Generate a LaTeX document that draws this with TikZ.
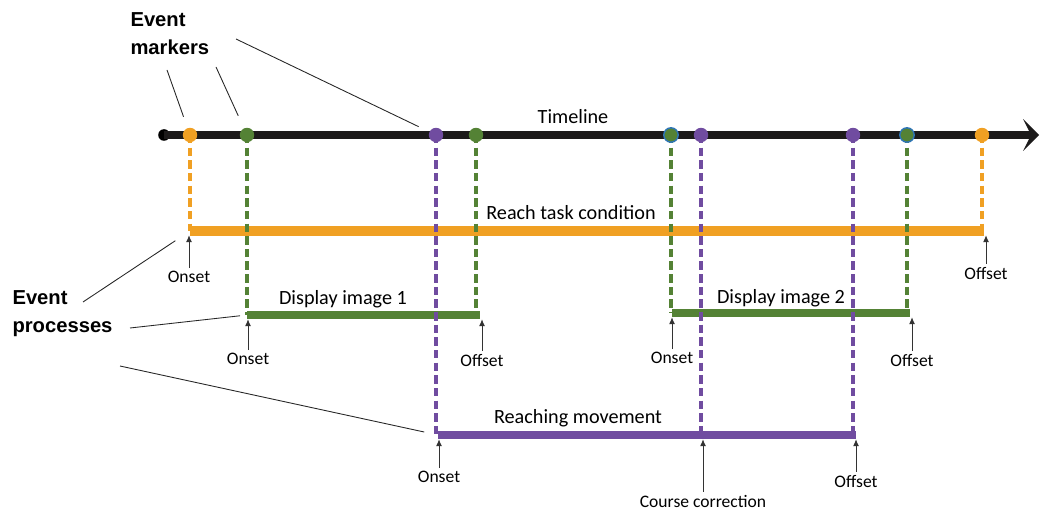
\documentclass[tikz,border=0pt]{standalone}
\usepackage{fontspec}
\setmainfont{Carlito}
\newfontfamily\headfont{Liberation Sans}
\usepackage{tikz}
\usetikzlibrary{arrows.meta}
\usetikzlibrary{positioning}
\usetikzlibrary{calc}
\definecolor{evorange}{RGB}{240,160,35}
\definecolor{evgreen}{RGB}{84,130,53}
\definecolor{evpurple}{RGB}{112,76,160}
\definecolor{evblue}{RGB}{46,117,182}
\definecolor{evblack}{RGB}{28,26,26}
\tikzset{every picture/.style={line width=0.6pt},
dot/.style={circle,inner sep=0pt,minimum size=8.2pt},
dashline/.style={line width=2pt,dash pattern=on 4.8pt off 2.4pt},
callout/.style={line width=0.5pt,black!85},
ptr/.style={line width=0.5pt,black!80,-{Latex[length=4pt,width=3.4pt]}},
evlabel/.style={font=\fontsize{10}{12}\selectfont,inner sep=1.5pt},
proc/.style={font=\fontsize{11.5}{14}\selectfont,inner sep=1pt},
head/.style={font=\headfont\bfseries\fontsize{11.5}{16}\selectfont,align=left,inner sep=0pt}}

\begin{document}
\begin{tikzpicture}[x=0.02cm,y=-0.02cm]
\useasboundingbox (0,0) rectangle (1040,509);
% timeline
\coordinate (tend) at (1039,135);
\node (start) at (164,135) [dot,fill=black,minimum size=6.6pt] {};
\draw[evblack,line width=4.6pt,-{Stealth[length=9pt,width=18pt,inset=4.5pt]}] (start.center) -- (tend);
\node (tl) at (573,117) [proc] {Timeline};
% processes
\foreach \n/\xa/\xb/\y/\c/\w in {cond/190/984/231/evorange/5.5pt,img1/247/480/315/evgreen/4.8pt,img2/672/910/313/evgreen/4.8pt,reach/438/856/435/evpurple/4.2pt} {
\coordinate (\n a) at (\xa,\y);
\coordinate (\n b) at (\xb,\y);
\draw[\c,line width=\w] (\n a) -- (\n b);
}
\node (condt) at (571,213) [proc] {Reach task condition};
\node (img1t) at (343,299) [proc] {Display image 1};
\node (img2t) at (781,298) [proc] {Display image 2};
\node (reacht) at (578,418) [proc] {Reaching movement};
% markers
\foreach \i/\x/\t/\c in {1/190/conda/evorange,2/247/img1a/evgreen,3/436/reacha/evpurple,4/476/img1b/evgreen,5/671/img2a/evgreen,6/701/reacha/evpurple,7/853/reachb/evpurple,8/907/img2b/evgreen,9/982/condb/evorange} {
\coordinate (p\i) at (\x,135);
\draw[dashline,\c] (p\i) -- (p\i |- \t);
\ifnum \i = 5
\node (m\i) at (p\i) [dot,fill=\c,draw=evblue,line width=0.8pt] {};
\else
\ifnum \i = 8
\node (m\i) at (p\i) [dot,fill=\c,draw=evblue,line width=0.8pt] {};
\else
\node (m\i) at (p\i) [dot,fill=\c] {};
\fi
\fi
}
% onset / offset
\foreach \n/\x/\y/\t/\b in {on1/189/277/Onset/conda,off1/986/273/Offset/condb,on2/248/359/Onset/img1a,off2/482/360/Offset/img1b,on3/672/358/Onset/img2a,off3/912/360/Offset/img2b,on4/439/477/Onset/reacha,cc/703/501/Course correction/reacha,off4/856/481/Offset/reachb} {
\node (\n) at (\x,\y) [evlabel] {\t};
\draw[ptr,shorten >=2.4pt] (\n) -- (\n |- \b);
}
% headings
\node (em) at (130,34) [head,anchor=west] {Event\\markers};
\node (ep) at (12,314) [head,anchor=west] {Event\\processes};
\coordinate (em1) at (167,70);
\coordinate (em2) at (216,67);
\coordinate (em3) at (236,39);
\coordinate (ep1) at (83,302);
\coordinate (ep2) at (130,328);
\coordinate (ep3) at (120,366);
\draw[callout,shorten >=11pt] (em1) -- (m1.center);
\draw[callout,shorten >=12pt] (em2) -- (m2.center);
\draw[callout,shorten >=11pt] (em3) -- (m3.center);
\draw[callout,shorten >=10pt] (ep1) -- (conda);
\draw[callout,shorten >=4pt] (ep2) -- (img1a);
\draw[callout,shorten >=8pt] (ep3) -- (reacha);
\end{tikzpicture}
\end{document}
